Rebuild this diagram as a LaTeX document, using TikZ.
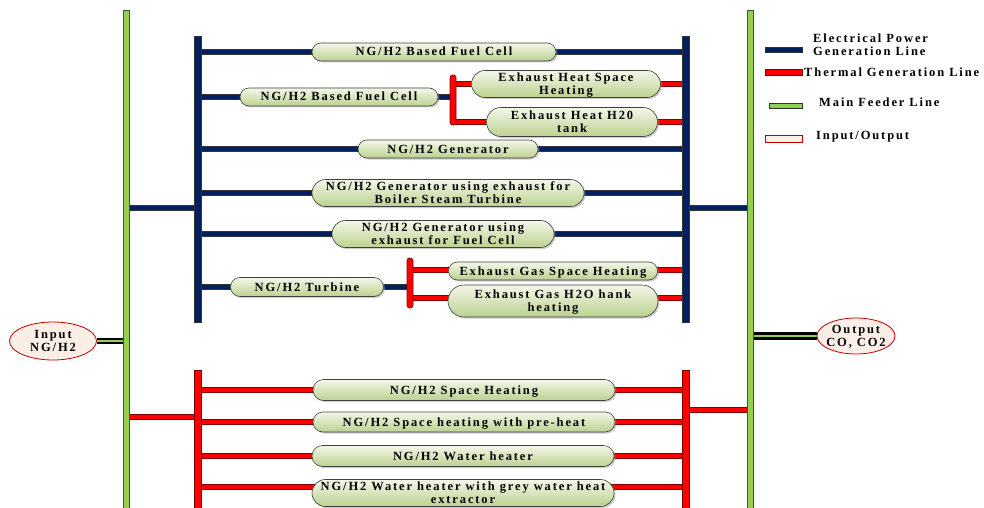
\documentclass[tikz,border=0pt]{standalone}
\usepackage{fontspec}
\newfontfamily\lbl{Liberation Serif}[LetterSpace=15]
\usetikzlibrary{shapes.misc,shapes.geometric,shadows}
\definecolor{navy}{HTML}{002060}
\definecolor{hred}{HTML}{FF0000}
\definecolor{feed}{HTML}{92D050}
\definecolor{iofill}{HTML}{FBEEE6}
\definecolor{ioedge}{HTML}{C00000}
\definecolor{ntop}{HTML}{F4F7E9}
\definecolor{nbot}{HTML}{BBD18F}
% centred text block that neither widens nor heightens its shape
\newcommand\tx[1]{\makebox[0pt]{\raisebox{-4.4pt}[0pt][0pt]{\begin{tabular}{@{}c@{}}#1\end{tabular}}}}
\pgfdeclarelayer{back}
\pgfsetlayers{back,main}
\begin{document}
\begin{tikzpicture}[x=1pt,y=-1pt,
  every node/.style={font=\lbl\bfseries\fontsize{12.5}{13}\selectfont, inner sep=0pt},
  unit/.style={rounded rectangle, draw=black!75, line width=0.6pt,
    top color=ntop, bottom color=nbot,
    drop shadow={shadow xshift=1.5pt, shadow yshift=-1.5pt, fill=black!40},
    minimum height=18pt},
  ebus/.style={rectangle, draw=black!80, line width=0.6pt, fill=navy, minimum width=7pt},
  tbus/.style={rectangle, draw=red!50!black, line width=0.6pt, fill=hred, minimum width=7pt},
  fbus/.style={rectangle, draw=black!70, line width=0.6pt, fill=feed, minimum width=6pt},
  tbar/.style={rectangle, rounded corners=2.5pt, draw=red!50!black, line width=0.6pt, fill=hred, minimum width=6pt},
  eline/.style={draw=black!80, line width=0.6pt, double=navy, double distance=4pt},
  tline/.style={draw=red!50!black, line width=0.6pt, double=hred, double distance=4.5pt},
  ioline/.style={draw=black, line width=1.8pt, double=feed, double distance=2pt},
  io/.style={ellipse, draw=ioedge, line width=0.8pt, fill=iofill},
  swatch/.style={rectangle, line width=0.6pt, minimum width=37pt, minimum height=5pt},
  keytext/.style={anchor=west}]

\useasboundingbox (0,0) rectangle (984,508);

% feeders and buses
\node[fbus, minimum height=520pt] (FL) at (126,270) {};
\node[fbus, minimum height=520pt] (FR) at (750,270) {};
\node[ebus, minimum height=286pt] (EL) at (198,179) {};
\node[ebus, minimum height=286pt] (ER) at (686,179) {};
\node[tbus, minimum height=150pt] (TL) at (198,445) {};
\node[tbus, minimum height=150pt] (TR) at (686,445) {};
\node[tbar, minimum height=50pt] (B1) at (453,100) {};
\node[tbar, minimum height=50pt] (B2) at (410,283) {};

% electrical generation units
\node[unit, minimum width=244pt] (u1) at (434,52) {\tx{NG/H2 Based Fuel Cell}};
\node[unit, minimum width=198pt] (u2) at (339,97) {\tx{NG/H2 Based Fuel Cell}};
\node[unit, minimum width=189pt, minimum height=27pt] (u2a) at (566,84) {\tx{Exhaust Heat Space\\Heating}};
\node[unit, minimum width=171pt, minimum height=29pt] (u2b) at (572,122) {\tx{Exhaust Heat H20\\tank}};
\node[unit, minimum width=180pt] (u3) at (448,149) {\tx{NG/H2 Generator}};
\node[unit, minimum width=272pt, minimum height=27pt] (u4) at (448,193) {\tx{NG/H2 Generator using exhaust for\\Boiler Steam Turbine}};
\node[unit, minimum width=222pt, minimum height=27pt] (u5) at (443,234) {\tx{NG/H2 Generator using\\exhaust for Fuel Cell}};
\node[unit, minimum width=153pt, minimum height=19pt] (u6) at (307,287) {\tx{NG/H2 Turbine}};
\node[unit, minimum width=209pt] (u6a) at (553,271) {\tx{Exhaust Gas Space Heating}};
\node[unit, minimum width=210pt, minimum height=32pt] (u6b) at (553,301) {\tx{Exhaust Gas H2O hank\\heating}};

% thermal generation units
\node[unit, minimum width=302pt, minimum height=21pt] (h1) at (464,390) {\tx{NG/H2 Space Heating}};
\node[unit, minimum width=302pt, minimum height=20pt] (h2) at (464,422) {\tx{NG/H2 Space heating with pre-heat}};
\node[unit, minimum width=302pt, minimum height=21pt] (h3) at (463,456) {\tx{NG/H2 Water heater}};
\node[unit, minimum width=302pt, minimum height=27pt] (h4) at (463,493) {\tx{NG/H2 Water heater with grey water heat\\extractor}};

% input and output
\node[io, minimum width=87pt, minimum height=38pt] (in) at (53,341) {\tx{Input\\NG/H2}};
\node[io, minimum width=78pt, minimum height=36pt] (out) at (856,336) {\tx{Output\\CO, CO2}};

% connectors, kept behind the units and buses
\begin{pgfonlayer}{back}
  \fill[white] (0,0) rectangle (984,508);
  \draw[eline] (FL |- 0,208) -- (EL |- 0,208);
  \draw[eline] (ER |- 0,208) -- (FR |- 0,208);
  \draw[eline] (EL |- u1) -- (ER |- u1);
  \draw[eline] (EL |- u2) -- (B1 |- u2);
  \draw[tline] (B1 |- u2a) -- (ER |- u2a);
  \draw[tline] (B1 |- u2b) -- (ER |- u2b);
  \draw[eline] (EL |- u3) -- (ER |- u3);
  \draw[eline] (EL |- u4) -- (ER |- u4);
  \draw[eline] (EL |- u5) -- (ER |- u5);
  \draw[eline] (EL |- u6) -- (B2 |- u6);
  \draw[tline] (B2 |- 0,270) -- (ER |- 0,270);
  \draw[tline] (B2 |- 0,298) -- (ER |- 0,298);
  \draw[tline] (FL |- 0,417) -- (TL |- 0,417);
  \draw[tline] (TR |- 0,410) -- (FR |- 0,410);
  \draw[tline] (TL |- h1) -- (TR |- h1);
  \draw[tline] (TL |- h2) -- (TR |- h2);
  \draw[tline] (TL |- h3) -- (TR |- h3);
  \draw[tline] (TL |- 0,487) -- (TR |- 0,487);
  \draw[ioline] (in) -- (FL |- in);
  \draw[ioline, line width=3pt, double distance=1.5pt] (out) -- (FR |- out);
\end{pgfonlayer}

% legend
\node[swatch, draw=black!80, fill=navy] (k1) at (783.5,49.5) {};
\node[keytext] (k1t) at (813,46) {\begin{tabular}{@{}l@{}}Electrical Power\\Generation Line\end{tabular}};
\node[swatch, draw=red!50!black, fill=hred, minimum height=6pt] (k2) at (783.5,72) {};
\node[keytext] (k2t) at (804,72) {Thermal Generation Line};
\node[swatch, draw=black!80, fill=feed, minimum width=33pt] (k3) at (785.5,105.5) {};
\node[keytext] (k3t) at (819,102) {Main Feeder Line};
\node[swatch, draw=ioedge, fill=iofill, minimum height=7pt] (k4) at (783.5,139) {};
\node[keytext] (k4t) at (816,137) {Input/Output};
\end{tikzpicture}
\end{document}
